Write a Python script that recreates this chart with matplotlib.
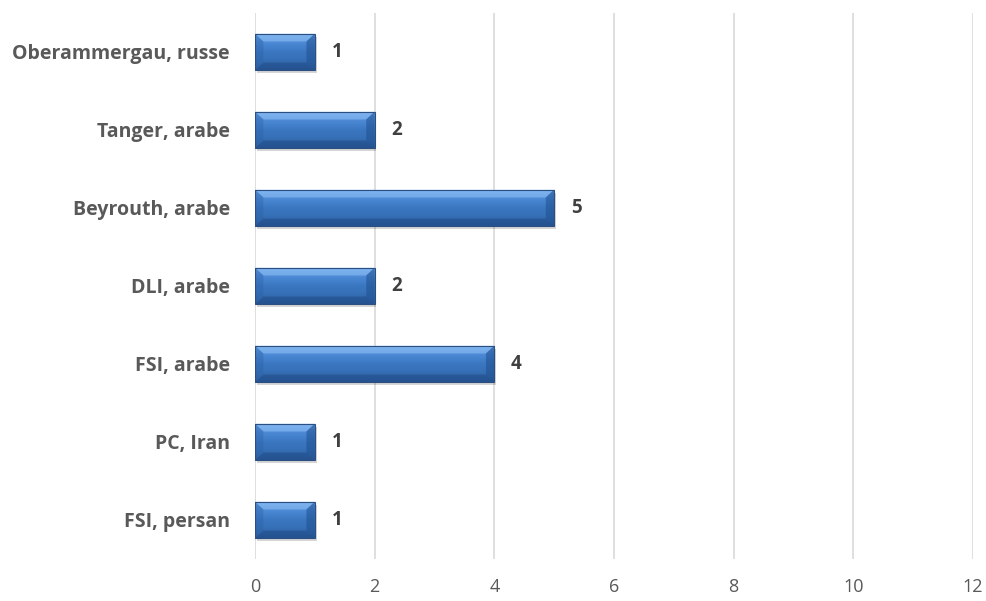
import matplotlib
matplotlib.use('Agg')
import matplotlib.pyplot as plt
from matplotlib.patches import Polygon
import numpy as np

# ── DATA ──────────────────────────────────────────────────────────────────────
categories = ["FSI, persan", "PC, Iran", "FSI, arabe", "DLI, arabe",
              "Beyrouth, arabe", "Tanger, arabe", "Oberammergau, russe"]
values = [1, 1, 4, 2, 5, 2, 1]
x_ticks = [0, 2, 4, 6, 8, 10, 12]

# ── PALETTE ──────────────────────────────────────────────────────────────────
C_GRID  = "#d9d9d9"
C_LABEL = "#595959"
C_VALUE = "#404040"
C_EDGE  = "#2a4f80"

plt.rcParams["font.family"] = ["Open Sans", "DejaVu Sans"]

fig = plt.figure(figsize=(9.86, 6.01), dpi=100)
fig.patch.set_facecolor("white")
ax = fig.add_axes([0.2586, 0.0699, 0.7282, 0.9085])

ypos = np.arange(len(categories))
bars = ax.barh(ypos, values, height=0.47, color="#3b78c2",
               edgecolor="none", zorder=3)

ax.set_xlim(0, 12)
ax.set_ylim(-0.5, len(categories) - 0.5)
ax.set_xticks(x_ticks)
ax.set_xticklabels([str(t) for t in x_ticks], fontsize=13, color=C_LABEL)
ax.set_yticks(ypos)
ax.set_yticklabels(categories, fontsize=14, fontweight="bold", color=C_LABEL)
ax.tick_params(axis="both", length=0)
ax.tick_params(axis="y", pad=18)
ax.tick_params(axis="x", pad=14)
for s in ax.spines.values():
    s.set_visible(False)
ax.grid(axis="x", color=C_GRID, linewidth=1.2, zorder=0)
ax.set_axisbelow(True)

# ── Bevelled gradient bars ───────────────────────────────────────────────────
grad = np.linspace(0, 1, 64).reshape(-1, 1)
cmap = matplotlib.colors.LinearSegmentedColormap.from_list(
    "bevel", ["#6ea8ea", "#4d8ad6", "#3b77c1", "#356eb5", "#2c5c9c"])
bx = 0.14   # bevel width in data units (x)
by = 0.10   # bevel height in data units (y)
for b in bars:
    x0, y0 = b.get_x(), b.get_y()
    w, h = b.get_width(), b.get_height()
    # shadow
    ax.add_patch(plt.Rectangle((x0 + 0.03, y0 - 0.04), w, h,
                 facecolor="#000000", alpha=0.16, edgecolor="none", zorder=2))
    im = ax.imshow(grad[::-1], extent=(x0, x0 + w, y0, y0 + h), cmap=cmap,
                   aspect="auto", origin="lower", zorder=4)
    im.set_clip_path(b)
    # bevel facets
    ax.add_patch(Polygon([(x0, y0 + h), (x0 + w, y0 + h),
                          (x0 + w - bx, y0 + h - by), (x0 + bx, y0 + h - by)],
                         closed=True, facecolor="#8fc0f5", alpha=0.55,
                         edgecolor="none", zorder=5))
    ax.add_patch(Polygon([(x0, y0), (x0 + w, y0),
                          (x0 + w - bx, y0 + by), (x0 + bx, y0 + by)],
                         closed=True, facecolor="#1f4a85", alpha=0.5,
                         edgecolor="none", zorder=5))
    ax.add_patch(Polygon([(x0, y0), (x0, y0 + h),
                          (x0 + bx, y0 + h - by), (x0 + bx, y0 + by)],
                         closed=True, facecolor="#2b62a8", alpha=0.4,
                         edgecolor="none", zorder=5))
    ax.add_patch(Polygon([(x0 + w, y0), (x0 + w, y0 + h),
                          (x0 + w - bx, y0 + h - by), (x0 + w - bx, y0 + by)],
                         closed=True, facecolor="#1f4f8f", alpha=0.55,
                         edgecolor="none", zorder=5))
    ax.add_patch(plt.Rectangle((x0, y0), w, h, facecolor="none",
                 edgecolor=C_EDGE, linewidth=0.8, zorder=6))

# ── Value labels ─────────────────────────────────────────────────────────────
for y, v in zip(ypos, values):
    ax.annotate(str(v), xy=(v, y), xytext=(12, 0), textcoords="offset points",
                ha="left", va="center", fontsize=13.5, fontweight="bold",
                color=C_VALUE, zorder=7)

fig.savefig("out.png", dpi=100, facecolor="white")
